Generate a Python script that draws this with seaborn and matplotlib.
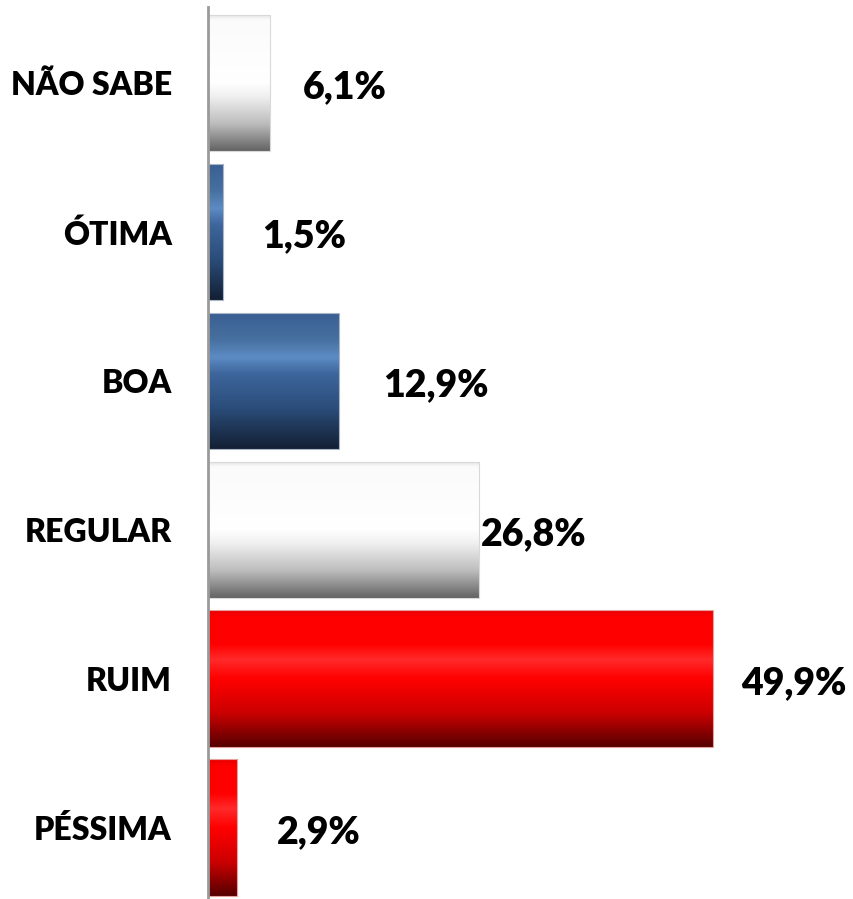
#!/usr/bin/env python3
"""Horizontal bar chart with gradient-filled bars (survey evaluation)."""
import numpy as np
import pandas as pd
import matplotlib
matplotlib.use("Agg")
import matplotlib.pyplot as plt
from matplotlib.colors import LinearSegmentedColormap
import seaborn as sns

categories = ["NÃO SABE", "ÓTIMA", "BOA", "REGULAR", "RUIM", "PÉSSIMA"]
values = [6.1, 1.5, 12.9, 26.8, 49.9, 2.9]
value_labels = ["6,1%", "1,5%", "12,9%", "26,8%", "49,9%", "2,9%"]
groups = ["gray", "blue", "blue", "gray", "red", "red"]

# gradient stops (top -> bottom of each bar)
gradients = {
    "gray": [(0.0, "#e2e2e2"), (0.04, "#fbfbfb"), (0.5, "#ffffff"),
             (0.6, "#f0f0f0"), (0.8, "#bdbdbd"), (1.0, "#636363")],
    "blue": [(0.0, "#3a5f93"), (0.2, "#46709f"), (0.33, "#5d8bc4"),
             (0.45, "#3d669c"), (0.7, "#2b4d7a"), (1.0, "#131f33")],
    "red": [(0.0, "#e80000"), (0.05, "#ff0000"), (0.25, "#ff0000"),
            (0.36, "#ff2a2a"), (0.5, "#ff0000"), (0.75, "#cc0000"),
            (1.0, "#550000")],
}
edges = {"gray": "#d9d9d9", "blue": "#a9b6c8", "red": "#e7a0a0"}

# small horizontal nudges of the value labels (data units), as in the original
label_pad = [3.3, 3.8, 4.4, 0.2, 2.8, 3.9]

df = pd.DataFrame({"categoria": categories, "valor": values})

sns.set_style("white")
plt.rcParams["font.family"] = ["Lato", "DejaVu Sans"]

fig = plt.figure(figsize=(8.54, 8.99), dpi=100)
ax = fig.add_axes([0.2436, 0.0, 0.7344, 0.9922])

sns.barplot(data=df, x="valor", y="categoria", orient="h", color="white",
            width=0.915, ax=ax)

for patch, grp in zip(ax.patches, groups):
    x0, y0 = patch.get_x(), patch.get_y()
    w, h = patch.get_width(), patch.get_height()
    cmap = LinearSegmentedColormap.from_list(grp, gradients[grp])
    grad = np.linspace(0, 1, 256).reshape(-1, 1)
    im = ax.imshow(grad, cmap=cmap, aspect="auto", origin="upper",
                   extent=(x0, x0 + w, y0 + h, y0), zorder=2,
                   interpolation="bicubic")
    im.set_clip_path(patch)
    patch.set_facecolor("none")
    patch.set_edgecolor(edges[grp])
    patch.set_linewidth(0.8)
    patch.set_zorder(3)

for i, (v, lab, pad) in enumerate(zip(values, value_labels, label_pad)):
    ax.text(v + pad, i + 0.03, lab, ha="left", va="center",
            fontsize=27, fontweight="heavy", color="black")

ax.set_xlim(0, 62)
ax.set_ylim(5.48, -0.51)
ax.set_xlabel("")
ax.set_ylabel("")
ax.set_xticks([])
ax.tick_params(axis="y", length=0, pad=26, labelsize=23, labelcolor="black")
for t in ax.get_yticklabels():
    t.set_fontweight("heavy")

for s in ["top", "right", "bottom"]:
    ax.spines[s].set_visible(False)
ax.spines["left"].set_color("#9a9a9a")
ax.spines["left"].set_linewidth(2)
ax.spines["left"].set_zorder(4)

fig.savefig("out.png", dpi=100, facecolor="white")
